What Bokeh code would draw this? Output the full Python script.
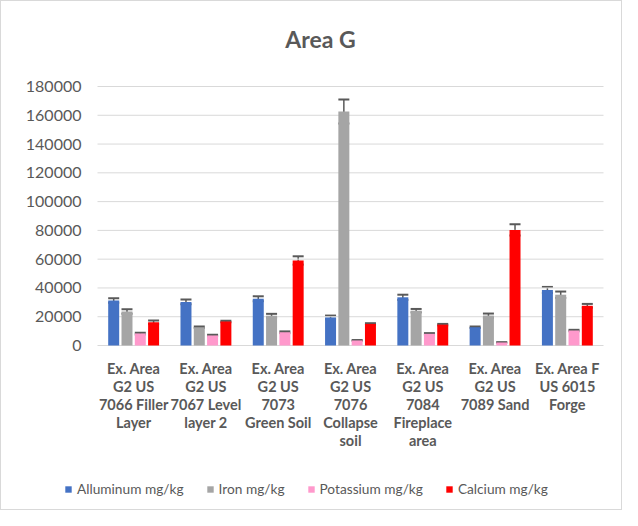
from bokeh.plotting import figure
from bokeh.models import (ColumnDataSource, Range1d, Whisker, Legend, LegendItem, LabelSet, Label)
from bokeh.core.properties import value
from bokeh.embed import file_html
from bokeh.resources import INLINE

categories = [
    "Ex. Area\nG2 US\n7066 Filler\nLayer",
    "Ex. Area\nG2 US\n7067 Level\nlayer 2",
    "Ex. Area\nG2 US\n7073\nGreen Soil",
    "Ex. Area\nG2 US\n7076\nCollapse\nsoil",
    "Ex. Area\nG2 US\n7084\nFireplace\narea",
    "Ex. Area\nG2 US\n7089 Sand",
    "Ex. Area F\nUS 6015\nForge",
]
series_names = ["Alluminum mg/kg", "Iron mg/kg", "Potassium mg/kg", "Calcium mg/kg"]
aluminum = [31300, 30300, 32500, 19500, 33500, 12700, 38600]
aluminum_err = [1600, 1600, 1700, 1300, 1800, 500, 2100]
iron = [23600, 12700, 20700, 162600, 24200, 20800, 35300]
iron_err = [1600, 500, 1300, 8400, 1200, 1400, 2200]
potassium = [8300, 6900, 9200, 3500, 8100, 2100, 10400]
potassium_err = [600, 500, 600, 300, 500, 200, 500]
calcium = [16200, 16700, 59100, 15000, 14500, 80300, 27600]
calcium_err = [1200, 500, 2900, 500, 500, 3900, 1300]
y_ticks = [0, 20000, 40000, 60000, 80000, 100000, 120000, 140000, 160000, 180000]
title_text = "Area G"

colors = ["#4472C4", "#A5A5A5", "#FF99CC", "#FF0000"]
FONT = "Lato"
GRAY = "#595959"

# canvas geometry (pixels)
W, H = 622, 510
PL, PR, PT, PB = 96, 602, 85, 344   # plot area edges
YMAX = max(y_ticks)
n = len(categories)
cw = (PR - PL) / n                 # px per category
per_px = YMAX / (PB - PT)          # data units per px (y)

x_range = Range1d(-PL / cw, n + (W - PR) / cw)
y_range = Range1d(-(H - PB) * per_px, YMAX + PT * per_px)

p = figure(width=W, height=H, x_range=x_range, y_range=y_range,
           output_backend="svg", toolbar_location=None,
           x_axis_location=None, y_axis_location=None,
           min_border=0)
p.styles = {"border": "1px solid #d9d9d9"}
p.outline_line_color = None
p.grid.visible = False

# horizontal gridlines from the ticks
p.segment(x0=[0] * len(y_ticks), x1=[n] * len(y_ticks), y0=y_ticks, y1=y_ticks,
          line_color="#d9d9d9", line_width=1)

xc = [i + 0.5 for i in range(n)]
series = [(aluminum, aluminum_err), (iron, iron_err), (potassium, potassium_err), (calcium, calcium_err)]
offsets = [-0.276, -0.092, 0.092, 0.276]
renderers = []
for (vals, errs), off, col in zip(series, offsets, colors):
    src = ColumnDataSource(dict(x=[c + off for c in xc], top=vals,
                                upper=[v + e for v, e in zip(vals, errs)],
                                lower=[v - e for v, e in zip(vals, errs)]))
    r = p.vbar(x="x", top="top", bottom=0, width=0.152, source=src,
               fill_color=col, line_color=None)
    renderers.append(r)
    w = Whisker(base="x", upper="upper", lower="lower", source=src,
                line_color=GRAY, line_width=1.5)
    for head in (w.upper_head, w.lower_head):
        head.size = 11
        head.line_color = GRAY
        head.line_width = 2
    p.add_layout(w)

# y tick labels
ysrc = ColumnDataSource(dict(x=[0] * len(y_ticks), y=y_ticks, t=[str(v) for v in y_ticks]))
p.add_layout(LabelSet(x="x", y="y", text="t", source=ysrc, x_offset=-16,
                      text_align="right", text_baseline="middle", text_font=value(FONT),
                      text_font_size=value("16px"), text_color=GRAY))

# category labels, one row per text line
lx, ly, lt = [], [], []
for i, c in enumerate(categories):
    for j, line in enumerate(c.split("\n")):
        lx.append(xc[i])
        ly.append(-(23 + 18 * j) * per_px)
        lt.append(line)
p.add_layout(LabelSet(x="x", y="y", text="t", source=ColumnDataSource(dict(x=lx, y=ly, t=lt)),
                      text_align="center", text_baseline="middle", text_font=value(FONT),
                      text_font_size=value("14.5px"), text_font_style="bold", text_color=GRAY))

# title
p.add_layout(Label(x=(319 - PL) / cw, y=YMAX + (PT - 37) * per_px, text=title_text,
                   text_align="center", text_baseline="middle", text_font=FONT,
                   text_font_size="23px", text_font_style="bold", text_color=GRAY))

legend = Legend(items=[LegendItem(label=s, renderers=[r]) for s, r in zip(series_names, renderers)],
                orientation="horizontal", location=(63, 14))
legend.label_text_font = FONT
legend.label_text_font_size = "13.7px"
legend.label_text_color = GRAY
legend.glyph_width = 8
legend.glyph_height = 8
legend.spacing = 22
legend.label_standoff = 5
legend.padding = 0
legend.margin = 0
legend.border_line_color = None
legend.background_fill_alpha = 0
p.add_layout(legend, "center")

open("out.html", "w").write(file_html(p, INLINE))
